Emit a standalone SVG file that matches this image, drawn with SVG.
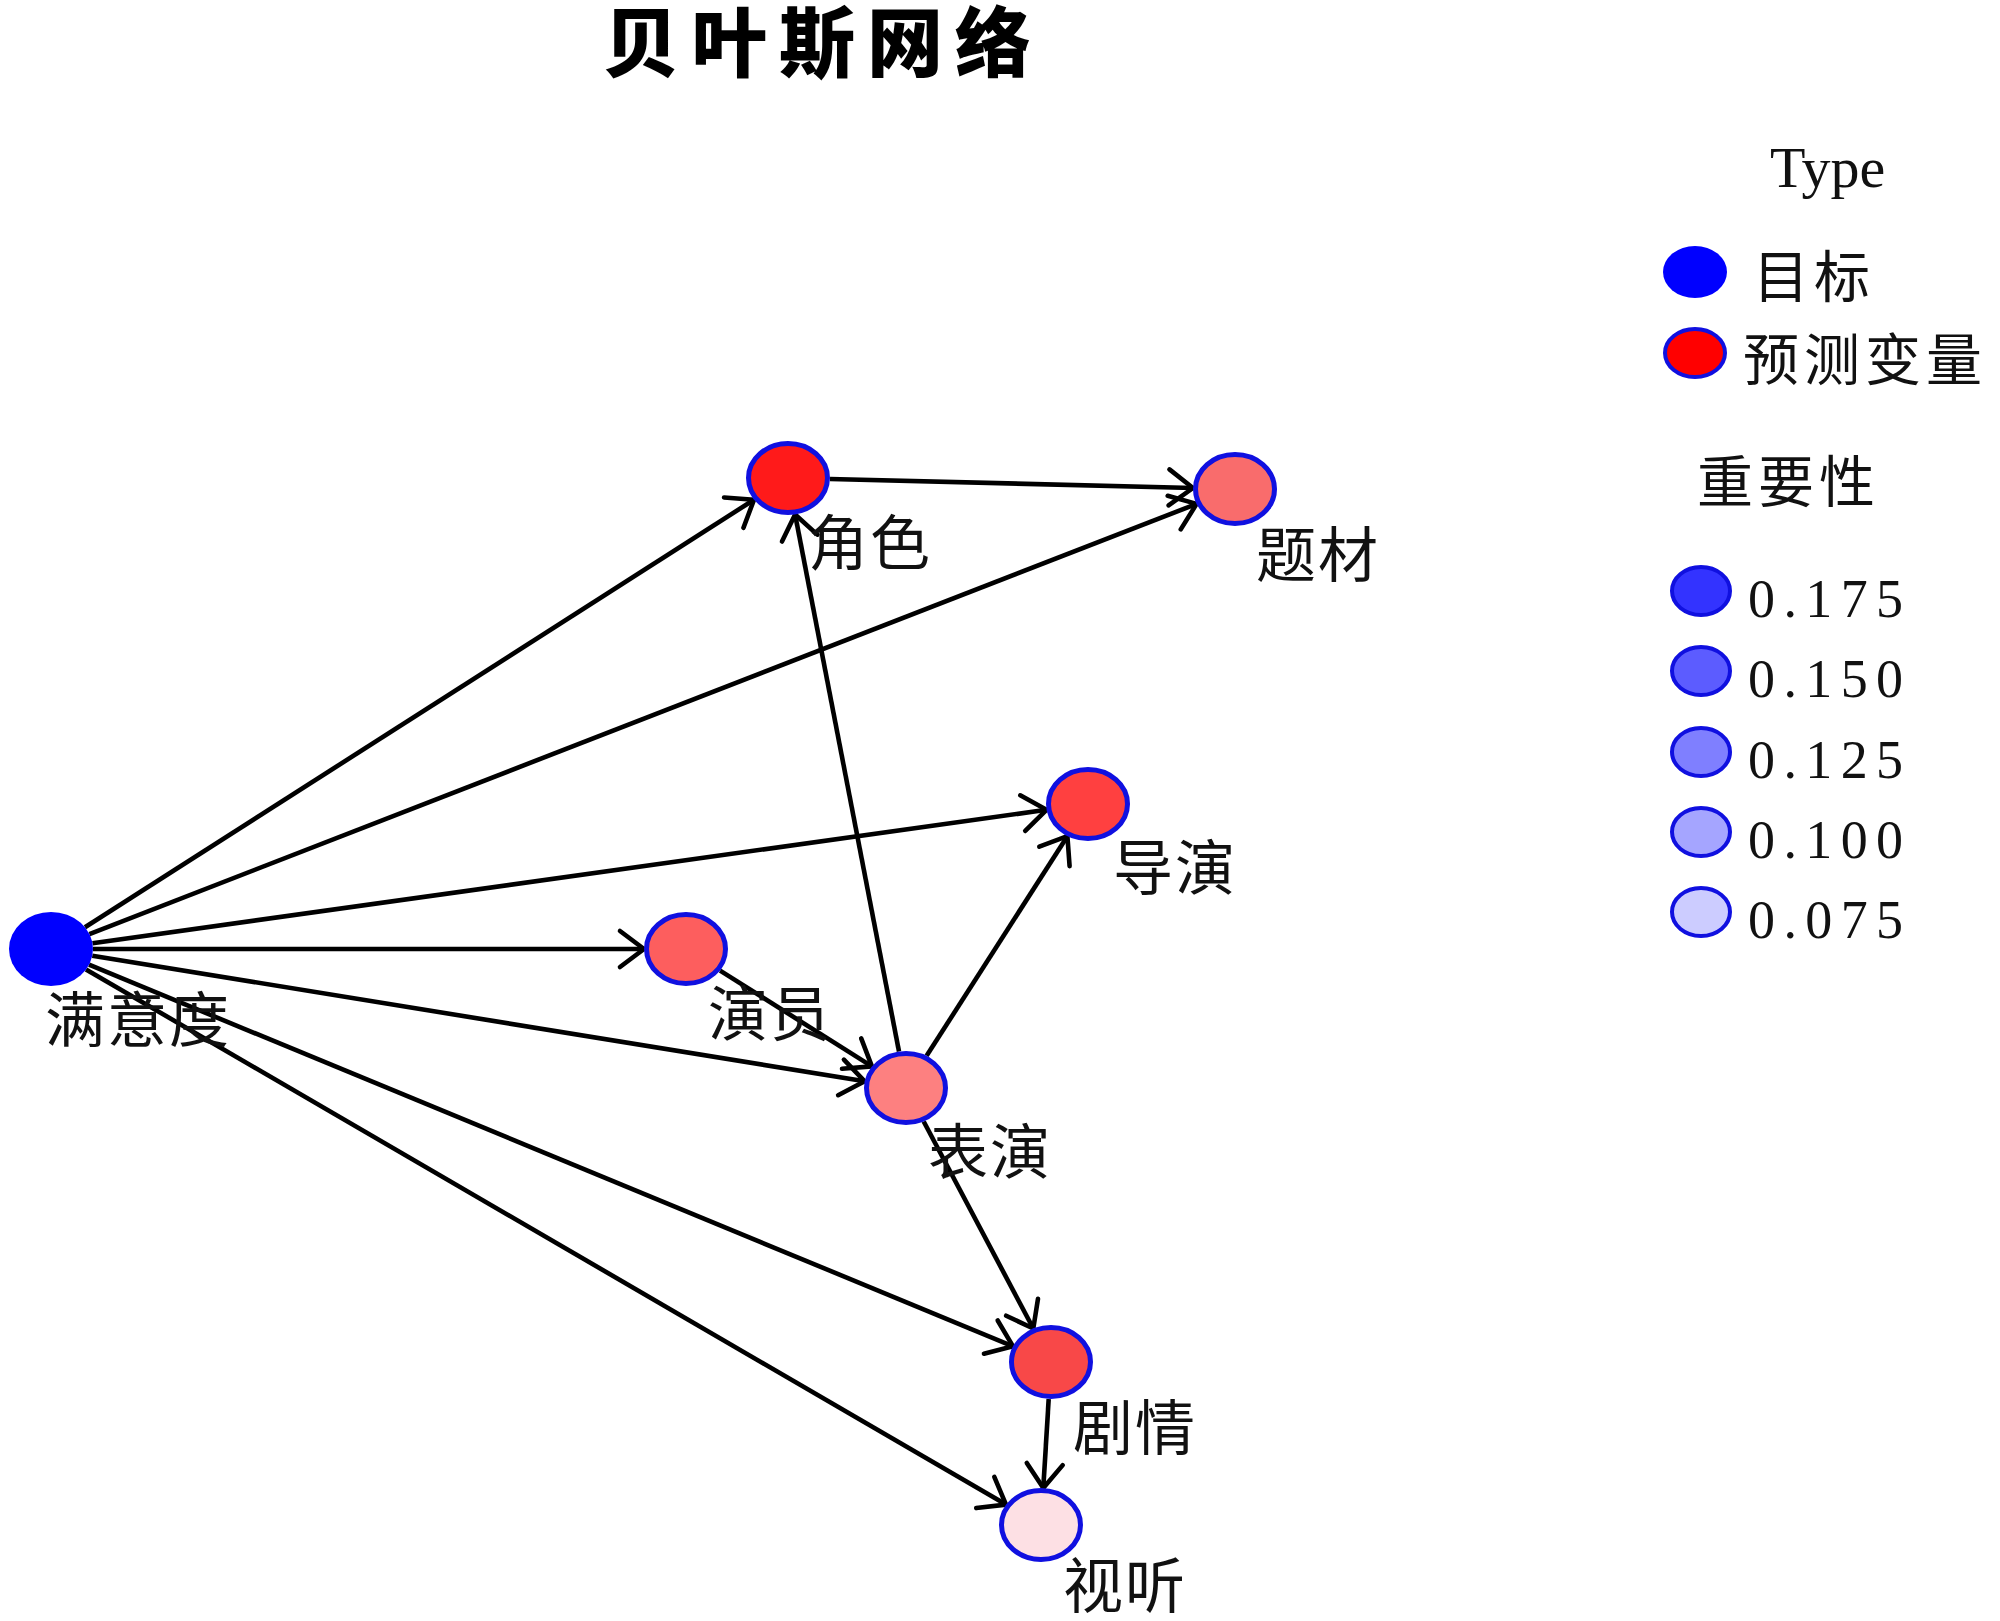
<svg xmlns="http://www.w3.org/2000/svg" width="2000" height="1621" viewBox="0 0 2000 1621">
<defs>
<style>
.edge{stroke:#000;stroke-width:4.6;fill:none;marker-end:url(#arr)}
.node{stroke:#1010e0;stroke-width:5}
.lbl{font-family:"Noto Sans CJK SC","Noto Sans CJK JP",sans-serif;font-size:60px;fill:#111;letter-spacing:2px}
.leglbl{font-family:"Noto Sans CJK SC","Noto Sans CJK JP",sans-serif;font-size:56px;fill:#111;letter-spacing:5px}
.num{font-family:"Liberation Serif","DejaVu Serif",serif;font-size:54px;fill:#111}
.leg{stroke:#1010e0;stroke-width:4}
</style>
<marker id="arr" markerUnits="userSpaceOnUse" viewBox="-30 -25 34 50" markerWidth="34" markerHeight="50" refX="0" refY="0" orient="auto">
<path d="M-24,-18 L0,0 L-24,18" fill="none" stroke="#000" stroke-width="4.6" stroke-linecap="round" stroke-linejoin="round"/>
</marker>
</defs>
<rect width="2000" height="1621" fill="#fff"/>
<text x="823" y="71" text-anchor="middle" font-family="Noto Sans CJK SC,sans-serif" font-size="76" font-weight="900" letter-spacing="12" fill="#000">贝叶斯网络</text>
<g id="edges">
<line class="edge" x1="85" y1="927.3" x2="754" y2="499.7"/>
<line class="edge" x1="89.4" y1="934.1" x2="1196.6" y2="503.9"/>
<line class="edge" x1="92.5" y1="943.2" x2="1046.5" y2="809.8"/>
<line class="edge" x1="93" y1="949" x2="644" y2="949"/>
<line class="edge" x1="92.3" y1="955.7" x2="864.7" y2="1081.3"/>
<line class="edge" x1="89" y1="964.7" x2="1013" y2="1346.3"/>
<line class="edge" x1="86" y1="969.4" x2="1006" y2="1504.6"/>
<line class="edge" x1="830" y1="479" x2="1193" y2="488"/>
<line class="edge" x1="720.1" y1="970.6" x2="871.9" y2="1066.4"/>
<line class="edge" x1="899" y1="1051.5" x2="795.1" y2="514.5"/>
<line class="edge" x1="926.6" y1="1055.8" x2="1067.4" y2="836.2"/>
<line class="edge" x1="923.7" y1="1121.5" x2="1033.3" y2="1328.5"/>
<line class="edge" x1="1048.7" y1="1399" x2="1043.3" y2="1488"/>
</g>
<g id="n-satisfaction"><ellipse cx="51" cy="949" rx="42" ry="37" fill="#0000ff"/><text class="lbl" x="45" y="1042">满意度</text></g>
<g id="n-role"><ellipse class="node" cx="788" cy="478" rx="39.5" ry="34.5" fill="#ff1a1a"/><text class="lbl" x="808" y="565">角色</text></g>
<g id="n-theme"><ellipse class="node" cx="1235" cy="489" rx="39.5" ry="34.5" fill="#f96c6c"/><text class="lbl" x="1256" y="577">题材</text></g>
<g id="n-director"><ellipse class="node" cx="1088" cy="804" rx="39.5" ry="34.5" fill="#ff4040"/><text class="lbl" x="1113" y="890">导演</text></g>
<g id="n-actor"><ellipse class="node" cx="686" cy="949" rx="39.5" ry="34.5" fill="#fd5e5e"/><text class="lbl" x="708" y="1036">演员</text></g>
<g id="n-performance"><ellipse class="node" cx="906" cy="1088" rx="39.5" ry="34.5" fill="#fd8080"/><text class="lbl" x="928" y="1174">表演</text></g>
<g id="n-plot"><ellipse class="node" cx="1051" cy="1362" rx="39.5" ry="34.5" fill="#f84848"/><text class="lbl" x="1073" y="1450">剧情</text></g>
<g id="n-audiovisual"><ellipse class="node" cx="1041" cy="1525" rx="39.5" ry="34.5" fill="#fde0e4"/><text class="lbl" x="1063" y="1608">视听</text></g>
<g id="legend">
<text x="1770" y="187" font-family="Liberation Serif,serif" font-size="58" fill="#111">Type</text>
<ellipse cx="1695" cy="272" rx="32" ry="26" fill="#0000ff"/>
<text class="leglbl" x="1753" y="297">目标</text>
<ellipse class="leg" cx="1695" cy="353" rx="30" ry="24" fill="#ff0000"/>
<text class="leglbl" x="1743" y="380">预测变量</text>
<text class="leglbl" x="1697" y="502">重要性</text>
<ellipse class="leg" cx="1701" cy="591" rx="29" ry="24" fill="#3333ff"/>
<text class="num" x="1748" y="617" textLength="155" lengthAdjust="spacing">0.175</text>
<ellipse class="leg" cx="1701" cy="671" rx="29" ry="24" fill="#5c5cff"/>
<text class="num" x="1748" y="697" textLength="155" lengthAdjust="spacing">0.150</text>
<ellipse class="leg" cx="1701" cy="752" rx="29" ry="24" fill="#7f7fff"/>
<text class="num" x="1748" y="778" textLength="155" lengthAdjust="spacing">0.125</text>
<ellipse class="leg" cx="1701" cy="832" rx="29" ry="24" fill="#a5a5ff"/>
<text class="num" x="1748" y="858" textLength="155" lengthAdjust="spacing">0.100</text>
<ellipse class="leg" cx="1701" cy="912" rx="29" ry="24" fill="#ccccff"/>
<text class="num" x="1748" y="938" textLength="155" lengthAdjust="spacing">0.075</text>
</g>
</svg>
